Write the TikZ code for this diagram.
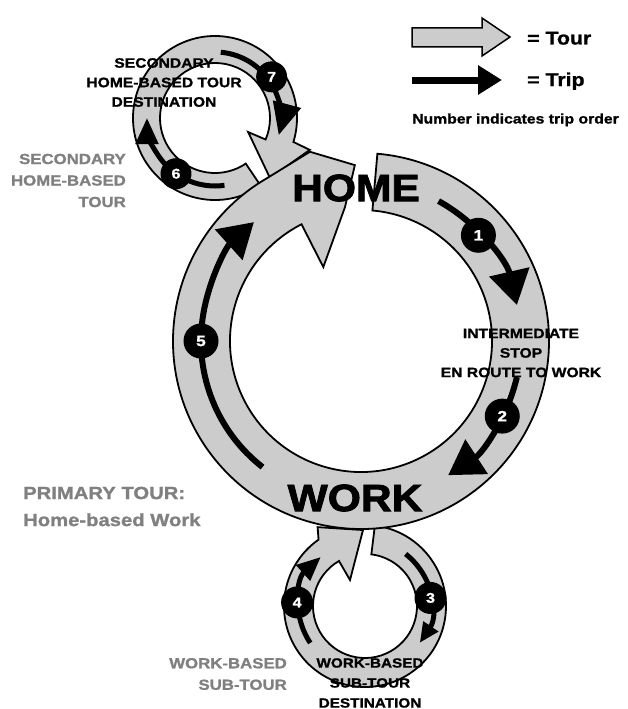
\documentclass[tikz,border=0pt]{standalone}
\usepackage{fontspec}
\setmainfont{Liberation Sans}[FakeStretch=1.15, BoldFeatures={FakeBold=1.2}]
\newfontfamily\heavyfont{Liberation Sans}[FakeStretch=1.12, BoldFeatures={FakeBold=2.2}]
\usetikzlibrary{arrows.meta}
\definecolor{ringgray}{HTML}{CCCCCC}
\definecolor{labelgray}{HTML}{808080}
\tikzset{
  tour/.style={fill=ringgray, draw=black, line width=1.8pt, line join=miter},
  trip/.style={draw=black, line width=6pt},
  smalltrip/.style={draw=black, line width=5pt},
  tripnum/.style={circle, fill=black, text=white, inner sep=0pt, minimum size=35pt,
    font=\fontsize{15}{15}\selectfont\bfseries},
  smallnum/.style={tripnum, minimum size=31pt, font=\fontsize{14}{14}\selectfont\bfseries},
  blacklabel/.style={align=center, inner sep=0pt, font=\fontsize{13.6}{19.5}\selectfont\bfseries},
  graylabel/.style={align=right, text=labelgray, inner sep=0pt, font=\fontsize{14.6}{21.5}\selectfont\bfseries},
  bigword/.style={inner sep=0pt, font=\heavyfont\fontsize{38}{38}\selectfont\bfseries},
  legendtext/.style={inner sep=0pt, font=\fontsize{18.5}{19}\selectfont\bfseries},
}
\begin{document}
\begin{tikzpicture}[x=1pt,y=1pt]
\useasboundingbox (0,0) rectangle (627,-709);
\fill[white] (0,0) rectangle (627,-709);

% ---------- secondary home-based tour ring ----------
\begin{scope}[shift={(215,-118)}]
  \path[tour] (-56:82) arc[start angle=-56, end angle=-377, radius=82]
    -- (-18.6:100) -- (-47.5:81.4) -- (-23:36) -- (-23:55)
    arc[start angle=-383, end angle=-56, radius=55] -- cycle;
\end{scope}

% ---------- work-based sub-tour ring ----------
\begin{scope}[shift={(365,-606)}]
  \path[tour] (83:81) arc[start angle=83, end angle=-235, radius=81]
    -- (121:92) -- (91.5:76) -- (120:30) -- (120:52)
    arc[start angle=-240, end angle=83, radius=52] -- cycle;
\end{scope}

% ---------- primary tour ring ----------
\begin{scope}[shift={(361,-341)}]
  \path[tour] (85:188) arc[start angle=85, end angle=-240, radius=188]
    -- (105.1:196) -- (92:176) -- (96.8:135) -- (117:83) -- (117:131)
    arc[start angle=-243, end angle=85, radius=131] -- cycle;
\end{scope}

% ---------- trips on primary tour ----------
\begin{scope}[shift={(361,-341)}]
  \coordinate (t1s) at (61:160);
  \coordinate (t2s) at (-13:160);
  \coordinate (t5s) at (232:160);
  \draw[trip, -{Triangle[length=34pt,width=40pt]}] (t1s) arc[start angle=61, end angle=13, radius=160];
  \draw[trip, -{Triangle[length=34pt,width=40pt]}] (t2s) arc[start angle=-13, end angle=-57, radius=160];
  \draw[trip, -{Triangle[length=34pt,width=40pt]}] (t5s) arc[start angle=232, end angle=132, radius=160];
  \node[tripnum] (n1) at (42:158) {1};
  \node[tripnum] (n2) at (-28:160) {2};
  \node[tripnum] (n5) at (180:160) {5};
\end{scope}

% ---------- trips on secondary tour ----------
\begin{scope}[shift={(215,-118)}]
  \coordinate (t6s) at (-82:68);
  \coordinate (t7s) at (85:66);
  \draw[smalltrip, -{Triangle[length=26pt,width=22pt]}] (t6s) arc[start angle=-82, end angle=-180, radius=68];
  \draw[smalltrip, -{Triangle[length=32pt,width=28pt]}] (t7s) arc[start angle=85, end angle=-15, radius=66];
  \node[smallnum] (n6) at (-125:68) {6};
  \node[smallnum] (n7) at (36:70) {7};
\end{scope}

% ---------- trips on work-based sub-tour ----------
\begin{scope}[shift={(365,-606)}]
  \coordinate (t3s) at (52:66);
  \coordinate (t4s) at (-146:66);
  \draw[smalltrip, -{Triangle[length=20pt,width=17pt]}] (t3s) arc[start angle=52, end angle=-34, radius=66];
  \draw[smalltrip, -{Triangle[length=24pt,width=20pt]}] (t4s) arc[start angle=-146, end angle=-228, radius=66];
  \node[smallnum, minimum size=32pt] (n3) at (7:66) {3};
  \node[smallnum, minimum size=32pt] (n4) at (177:68) {4};
\end{scope}

% ---------- big words ----------
\node[bigword] (home) at (356,-188) {HOME};
\node[bigword] (work) at (355,-498) {WORK};

% ---------- labels ----------
\node[blacklabel] (secdest) at (164,-82.5) {SECONDARY\\HOME-BASED TOUR\\DESTINATION};
\node[graylabel, anchor=east] (sectour) at (126,-180.5) {SECONDARY\\HOME-BASED\\TOUR};
\node[blacklabel] (inter) at (521,-353) {INTERMEDIATE\\STOP\\EN ROUTE TO WORK};
\node[graylabel, align=left, anchor=west, font=\fontsize{17.6}{27}\selectfont\bfseries] (primary) at (23,-506.5) {PRIMARY TOUR:\\Home-based Work};
\node[graylabel, anchor=east] (wbtour) at (287,-674) {WORK-BASED\\SUB-TOUR};
\node[blacklabel, font=\fontsize{13.3}{20}\selectfont\bfseries] (wbdest) at (370,-683) {WORK-BASED\\SUB-TOUR\\DESTINATION};

% ---------- legend ----------
\path[tour, line width=1.5pt] (412,-28) -- (482,-28) -- (482,-18) -- (510,-37) -- (482,-56) -- (482,-47) -- (412,-47) -- cycle;
\coordinate (lega) at (412,-80);
\coordinate (legb) at (502,-80);
\draw[draw=black, line width=7pt, -{Triangle[length=24pt,width=28pt]}] (lega) -- (legb);
\node[legendtext, anchor=base west] (ltour) at (527,-44.5) {= Tour};
\node[legendtext, anchor=base west] (ltrip) at (527,-86) {= Trip};
\node[inner sep=0pt, anchor=base west, font=\fontsize{13.7}{14}\selectfont\bfseries] (lnum) at (412,-123.5) {Number indicates trip order};
\end{tikzpicture}
\end{document}
